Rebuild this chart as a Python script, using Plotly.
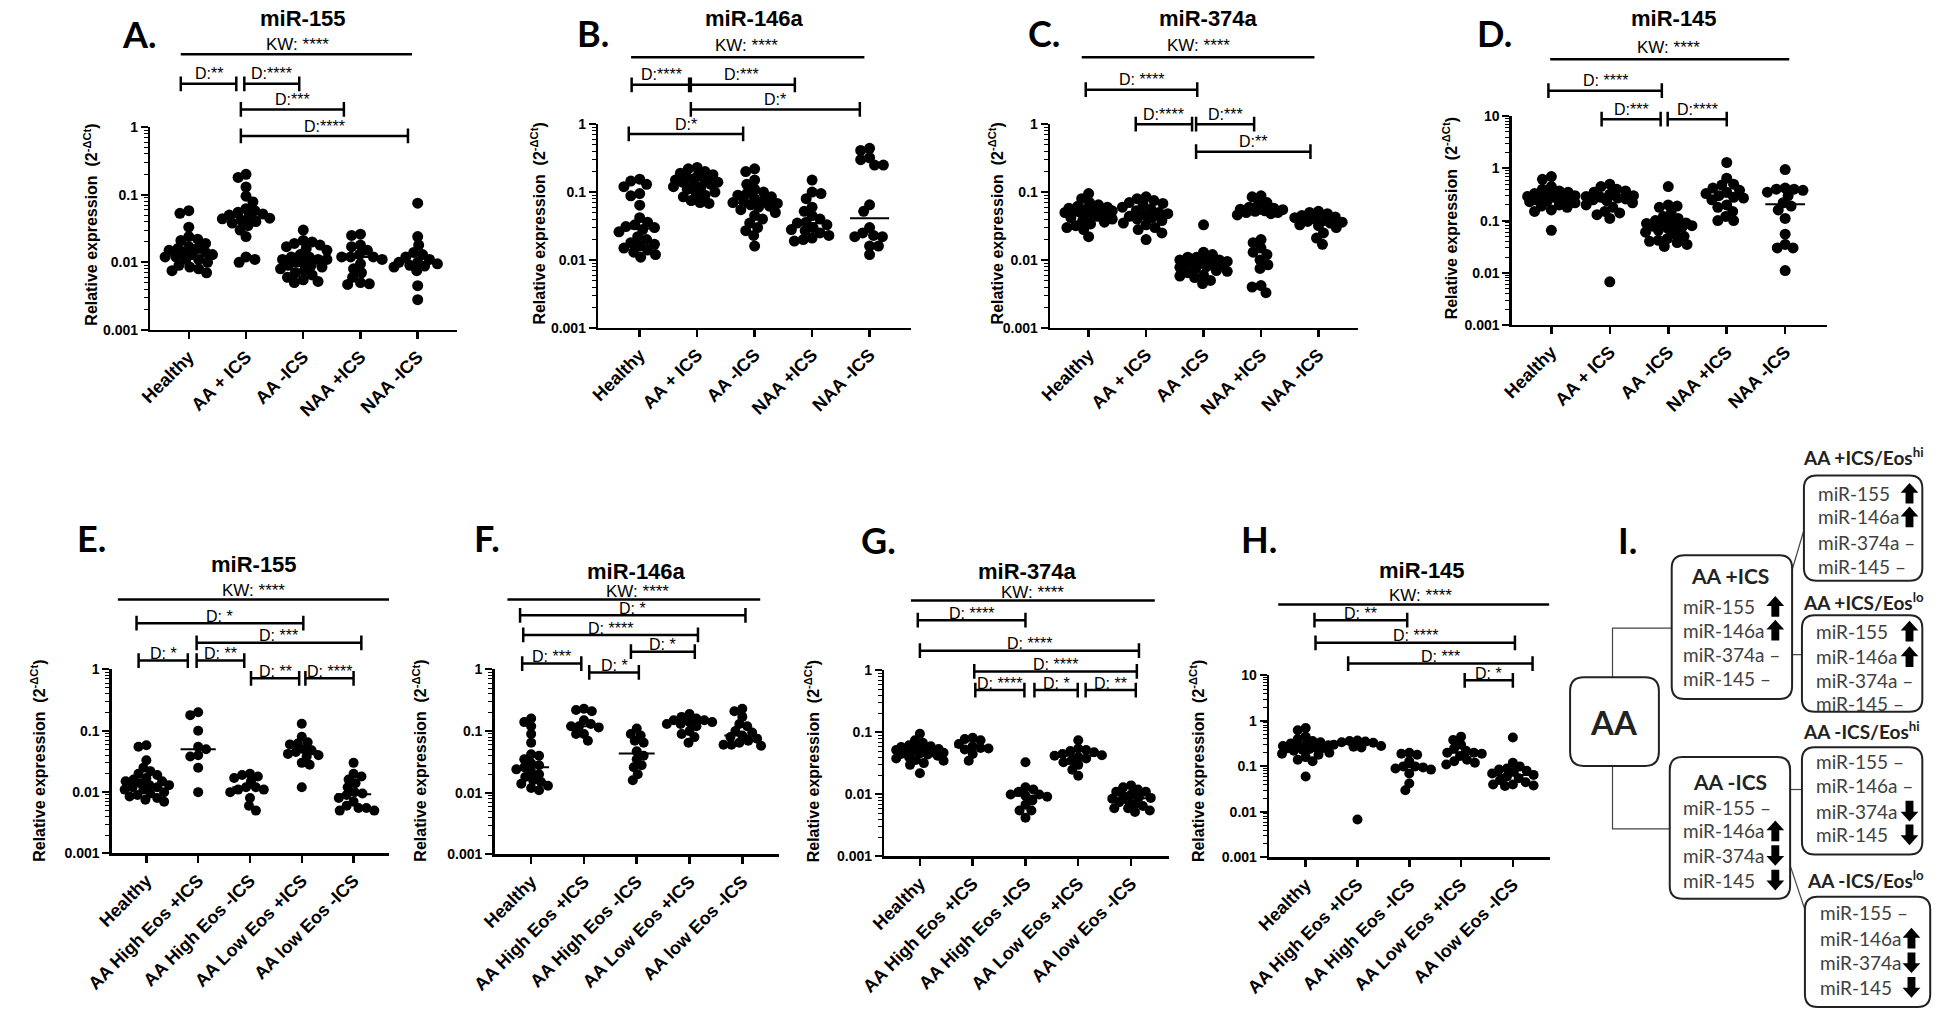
import numpy as np
import plotly.graph_objects as go

W, H = 1946, 1018
FONT = "Liberation Sans"
LFONT = "Lato"

CATS_TOP = ["Healthy", "AA + ICS", "AA -ICS", "NAA +ICS", "NAA -ICS"]
CATS_BOT = ["Healthy", "AA High Eos +ICS", "AA High Eos -ICS", "AA Low Eos +ICS", "AA low Eos -ICS"]

# ---------------- data (relative expression, 2^-dCt) ----------------
# A. miR-155
A_healthy = [0.058, 0.053, 0.033, 0.024, 0.022, 0.021, 0.019, 0.017, 0.016, 0.016, 0.015, 0.014, 0.014, 0.013, 0.013, 0.012, 0.012, 0.011, 0.011, 0.010, 0.009, 0.0085, 0.008, 0.0075, 0.007]
A_aa_pos = [0.20, 0.18, 0.13, 0.095, 0.078, 0.062, 0.058, 0.055, 0.052, 0.050, 0.048, 0.045, 0.044, 0.042, 0.040, 0.038, 0.035, 0.030, 0.024, 0.012, 0.011, 0.010]
A_aa_neg = [0.030, 0.021, 0.020, 0.019, 0.018, 0.017, 0.016, 0.015, 0.013, 0.012, 0.012, 0.011, 0.011, 0.011, 0.010, 0.010, 0.009, 0.009, 0.0085, 0.008, 0.0075, 0.007, 0.0065, 0.006, 0.0055, 0.0052, 0.005]
A_naa_pos = [0.026, 0.025, 0.018, 0.017, 0.015, 0.013, 0.012, 0.012, 0.012, 0.011, 0.0095, 0.008, 0.007, 0.006, 0.005, 0.0048, 0.0047]
A_naa_neg = [0.075, 0.024, 0.018, 0.014, 0.013, 0.012, 0.011, 0.010, 0.010, 0.0095, 0.009, 0.0088, 0.0085, 0.0075, 0.0045, 0.0028]
# B. miR-146a
B_healthy = [0.155, 0.145, 0.13, 0.12, 0.095, 0.088, 0.064, 0.042, 0.036, 0.033, 0.031, 0.030, 0.028, 0.026, 0.022, 0.020, 0.018, 0.017, 0.016, 0.015, 0.014, 0.013, 0.012, 0.011]
B_aa_pos = [0.23, 0.22, 0.20, 0.19, 0.18, 0.17, 0.16, 0.15, 0.15, 0.14, 0.14, 0.13, 0.13, 0.12, 0.12, 0.11, 0.10, 0.095, 0.09, 0.085, 0.075, 0.07, 0.068]
B_aa_neg = [0.22, 0.20, 0.15, 0.13, 0.11, 0.10, 0.095, 0.09, 0.085, 0.08, 0.075, 0.072, 0.07, 0.068, 0.065, 0.062, 0.06, 0.055, 0.05, 0.045, 0.04, 0.035, 0.03, 0.027, 0.023, 0.016]
B_naa_pos = [0.15, 0.10, 0.095, 0.08, 0.06, 0.052, 0.045, 0.04, 0.036, 0.035, 0.033, 0.03, 0.028, 0.027, 0.025, 0.023, 0.021, 0.02, 0.019]
B_naa_neg = [0.44, 0.41, 0.32, 0.30, 0.25, 0.25, 0.065, 0.052, 0.030, 0.025, 0.023, 0.022, 0.022, 0.016, 0.016, 0.012]
# C. miR-374a
C_healthy = [0.095, 0.08, 0.07, 0.065, 0.062, 0.06, 0.058, 0.056, 0.055, 0.054, 0.053, 0.052, 0.05, 0.05, 0.048, 0.046, 0.044, 0.042, 0.04, 0.038, 0.036, 0.034, 0.032, 0.03, 0.028, 0.022]
C_aa_pos = [0.085, 0.08, 0.075, 0.07, 0.068, 0.065, 0.06, 0.056, 0.053, 0.05, 0.048, 0.046, 0.044, 0.042, 0.04, 0.038, 0.035, 0.033, 0.03, 0.028, 0.025, 0.02]
C_aa_neg = [0.033, 0.013, 0.012, 0.011, 0.011, 0.010, 0.010, 0.010, 0.0095, 0.0092, 0.009, 0.0088, 0.0085, 0.0082, 0.008, 0.0078, 0.0075, 0.007, 0.0068, 0.0065, 0.006, 0.0058, 0.0055, 0.005, 0.0045]
C_naa_pos = [0.088, 0.085, 0.07, 0.065, 0.06, 0.058, 0.056, 0.055, 0.053, 0.052, 0.05, 0.05, 0.048, 0.046, 0.02, 0.018, 0.015, 0.013, 0.012, 0.01, 0.0085, 0.0075, 0.0042, 0.004, 0.0033]
C_naa_neg = [0.052, 0.05, 0.048, 0.045, 0.043, 0.042, 0.04, 0.038, 0.037, 0.036, 0.035, 0.033, 0.032, 0.03, 0.025, 0.021, 0.017]
# D. miR-145
D_healthy = [0.70, 0.62, 0.45, 0.40, 0.37, 0.35, 0.33, 0.32, 0.30, 0.29, 0.28, 0.27, 0.26, 0.25, 0.25, 0.24, 0.23, 0.22, 0.20, 0.19, 0.18, 0.16, 0.15, 0.065]
D_aa_pos = [0.50, 0.45, 0.40, 0.37, 0.35, 0.32, 0.30, 0.29, 0.28, 0.27, 0.26, 0.25, 0.24, 0.22, 0.20, 0.18, 0.15, 0.14, 0.13, 0.11, 0.0067]
D_aa_neg = [0.45, 0.20, 0.19, 0.18, 0.14, 0.12, 0.11, 0.10, 0.095, 0.09, 0.088, 0.085, 0.082, 0.08, 0.078, 0.075, 0.07, 0.065, 0.06, 0.055, 0.05, 0.045, 0.042, 0.04, 0.038, 0.035, 0.032]
D_naa_pos = [1.3, 0.65, 0.50, 0.48, 0.42, 0.38, 0.35, 0.33, 0.30, 0.28, 0.27, 0.25, 0.20, 0.18, 0.15, 0.12, 0.10, 0.10]
D_naa_neg = [0.95, 0.42, 0.40, 0.40, 0.38, 0.35, 0.30, 0.22, 0.19, 0.16, 0.11, 0.055, 0.035, 0.03, 0.03, 0.011]
# E. miR-155 by eosinophils
E_healthy = [0.058, 0.055, 0.033, 0.025, 0.022, 0.020, 0.019, 0.017, 0.016, 0.015, 0.015, 0.014, 0.013, 0.013, 0.012, 0.012, 0.011, 0.011, 0.010, 0.0095, 0.009, 0.0085, 0.008, 0.0075, 0.007]
E_hi_pos = [0.20, 0.18, 0.10, 0.055, 0.05, 0.04, 0.038, 0.025, 0.01]
E_hi_neg = [0.020, 0.019, 0.018, 0.017, 0.015, 0.012, 0.012, 0.011, 0.011, 0.010, 0.008, 0.006, 0.005]
E_lo_pos = [0.13, 0.08, 0.065, 0.062, 0.06, 0.05, 0.048, 0.045, 0.042, 0.04, 0.038, 0.03, 0.028, 0.012]
E_lo_neg = [0.030, 0.020, 0.018, 0.016, 0.014, 0.012, 0.010, 0.0095, 0.009, 0.008, 0.007, 0.006, 0.0055, 0.0055, 0.005, 0.005]
# F. miR-146a by eosinophils
F_healthy = [0.16, 0.14, 0.12, 0.09, 0.065, 0.042, 0.04, 0.035, 0.03, 0.028, 0.026, 0.024, 0.022, 0.02, 0.018, 0.016, 0.015, 0.014, 0.013, 0.012, 0.011]
F_hi_pos = [0.23, 0.22, 0.21, 0.15, 0.13, 0.12, 0.12, 0.115, 0.09, 0.09, 0.07]
F_hi_neg = [0.11, 0.09, 0.085, 0.07, 0.065, 0.047, 0.04, 0.035, 0.028, 0.026, 0.02, 0.016]
F_lo_pos = [0.19, 0.17, 0.16, 0.15, 0.15, 0.14, 0.14, 0.13, 0.13, 0.12, 0.10, 0.09, 0.08, 0.065]
F_lo_neg = [0.23, 0.21, 0.17, 0.13, 0.12, 0.10, 0.095, 0.085, 0.08, 0.075, 0.07, 0.065, 0.06, 0.06, 0.058]
# G. miR-374a by eosinophils
G_healthy = [0.095, 0.075, 0.068, 0.062, 0.06, 0.058, 0.055, 0.054, 0.053, 0.052, 0.05, 0.05, 0.048, 0.047, 0.046, 0.045, 0.044, 0.042, 0.04, 0.038, 0.036, 0.035, 0.032, 0.03, 0.022]
G_hi_pos = [0.082, 0.078, 0.075, 0.065, 0.06, 0.056, 0.055, 0.053, 0.045, 0.035]
G_hi_neg = [0.033, 0.013, 0.012, 0.011, 0.010, 0.010, 0.0095, 0.0092, 0.008, 0.0068, 0.0055, 0.0055, 0.0042]
G_lo_pos = [0.075, 0.055, 0.052, 0.05, 0.048, 0.045, 0.043, 0.042, 0.04, 0.038, 0.035, 0.033, 0.03, 0.025, 0.02]
G_lo_neg = [0.014, 0.013, 0.012, 0.011, 0.011, 0.010, 0.0095, 0.009, 0.0088, 0.0085, 0.008, 0.0075, 0.007, 0.0065, 0.006, 0.006, 0.0055, 0.0052]
# H. miR-145 by eosinophils
H_healthy = [0.70, 0.62, 0.45, 0.40, 0.36, 0.34, 0.32, 0.30, 0.29, 0.28, 0.27, 0.26, 0.25, 0.25, 0.24, 0.23, 0.22, 0.20, 0.19, 0.18, 0.16, 0.14, 0.13, 0.06]
H_hi_pos = [0.37, 0.36, 0.35, 0.34, 0.33, 0.30, 0.28, 0.27, 0.26, 0.0068]
H_hi_neg = [0.20, 0.19, 0.18, 0.13, 0.10, 0.10, 0.095, 0.09, 0.085, 0.07, 0.042, 0.03]
H_lo_pos = [0.45, 0.38, 0.30, 0.25, 0.22, 0.20, 0.20, 0.19, 0.17, 0.14, 0.13, 0.12, 0.11]
H_lo_neg = [0.43, 0.12, 0.10, 0.09, 0.085, 0.08, 0.075, 0.07, 0.065, 0.06, 0.055, 0.05, 0.045, 0.04, 0.04, 0.038, 0.037]

# significance brackets: (from category, to category, label)
A_brackets = [(-0.14, 0.83, "D:**"), (0.97, 1.93, "D:****"), (0.91, 2.71, "D:***"), (0.91, 3.83, "D:****")]
B_brackets = [(-0.14, 0.89, "D:****"), (0.86, 2.70, "D:***"), (0.89, 3.83, "D:*"), (-0.19, 1.80, "D:*")]
C_brackets = [(-0.05, 1.89, "D: ****"), (0.82, 1.80, "D:****"), (1.87, 2.88, "D:***"), (1.87, 3.86, "D:**")]
D_brackets = [(-0.05, 1.89, "D: ****"), (0.86, 1.87, "D:***"), (1.99, 3.0, "D:****")]
E_brackets = [(-0.19, 3.03, "D: *"), (0.97, 4.15, "D: ***"), (-0.15, 0.80, "D: *"), (0.97, 1.89, "D: **"), (2.02, 2.95, "D: **"), (3.07, 4.0, "D: ****")]
F_brackets = [(-0.21, 4.06, "D: *"), (-0.15, 3.16, "D: ****"), (1.89, 3.10, "D: *"), (-0.17, 0.95, "D: ***"), (1.10, 2.04, "D: *")]
G_brackets = [(-0.04, 2.0, "D: ****"), (0.0, 4.15, "D: ****"), (1.03, 4.11, "D: ****"), (1.05, 1.98, "D: ****"), (2.17, 2.99, "D: *"), (3.14, 4.09, "D: **")]
H_brackets = [(0.17, 1.96, "D: **"), (0.19, 4.04, "D: ****"), (0.82, 4.38, "D: ***"), (3.07, 4.0, "D: *")]

# ---------------- layout of panels (pixels) ----------------
PANELS = [
    dict(letter="A.", title="miR-155", cats=CATS_TOP, groups=[A_healthy, A_aa_pos, A_aa_neg, A_naa_pos, A_naa_neg],
         px=(126, 437), py=(121, 327), yr=(-3, 0), t0=165, sp=58.0, letter_xy=(115, 26), title_xy=(281, 11),
         ylab_xy=(65, 220), kw=(-0.14, 3.9, 47), kw_xy=(275, 37), br=A_brackets, br_y=[77, 77, 103, 130], dot=11, off=10),
    dict(letter="B.", title="miR-146a", cats=CATS_TOP, groups=[B_healthy, B_aa_pos, B_aa_neg, B_naa_pos, B_naa_neg],
         px=(580, 897), py=(118, 325), yr=(-3, 0), t0=622, sp=58.25, letter_xy=(575, 25), title_xy=(738, 11),
         ylab_xy=(519, 219), kw=(-0.15, 3.91, 50), kw_xy=(730, 38), br=B_brackets, br_y=[78, 78, 103, 128], dot=11, off=10),
    dict(letter="C.", title="miR-374a", cats=CATS_TOP, groups=[C_healthy, C_aa_pos, C_aa_neg, C_naa_pos, C_naa_neg],
         px=(1038, 1350), py=(118, 325), yr=(-3, 0), t0=1077, sp=58.25, letter_xy=(1032, 25), title_xy=(1199, 11),
         ylab_xy=(983, 219), kw=(-0.12, 3.93, 50), kw_xy=(1188, 38), br=C_brackets, br_y=[83, 118, 118, 146], dot=11, off=10),
    dict(letter="D.", title="miR-145", cats=CATS_TOP, groups=[D_healthy, D_aa_pos, D_aa_neg, D_naa_pos, D_naa_neg],
         px=(1506, 1825), py=(110, 322), yr=(-3, 1), t0=1546, sp=59.25, letter_xy=(1488, 25), title_xy=(1670, 11),
         ylab_xy=(1443, 214), kw=(-0.02, 4.07, 52), kw_xy=(1665, 40), br=D_brackets, br_y=[84, 113, 113], dot=11, off=10),
    dict(letter="E.", title="miR-155", cats=CATS_BOT, groups=[E_healthy, E_hi_pos, E_hi_neg, E_lo_pos, E_lo_neg],
         px=(87, 368), py=(672, 859), yr=(-3, 0), t0=122, sp=52.5, letter_xy=(66, 538), title_xy=(231, 565),
         ylab_xy=(12, 765), kw=(-0.55, 4.69, 601), kw_xy=(231, 592), br=E_brackets, br_y=[625, 645, 663, 663, 681, 681], dot=10, off=7),
    dict(letter="F.", title="miR-146a", cats=CATS_BOT, groups=[F_healthy, F_hi_pos, F_hi_neg, F_lo_pos, F_lo_neg],
         px=(475, 763), py=(672, 860), yr=(-3, 0), t0=512, sp=53.5, letter_xy=(467, 538), title_xy=(619, 572),
         ylab_xy=(399, 765), kw=(-0.45, 4.34, 601), kw_xy=(620, 593), br=F_brackets, br_y=[617, 637, 654, 666, 675], dot=10, off=7),
    dict(letter="G.", title="miR-374a", cats=CATS_BOT, groups=[G_healthy, G_hi_pos, G_hi_neg, G_lo_pos, G_lo_neg],
         px=(870, 1158), py=(673, 862), yr=(-3, 0), t0=906, sp=53.5, letter_xy=(864, 540), title_xy=(1015, 573),
         ylab_xy=(797, 765), kw=(-0.17, 4.45, 602), kw_xy=(1020, 594), br=G_brackets, br_y=[622, 653, 674, 693, 693, 693], dot=10, off=7),
    dict(letter="H.", title="miR-145", cats=CATS_BOT, groups=[H_healthy, H_hi_pos, H_hi_neg, H_lo_pos, H_lo_neg],
         px=(1260, 1545), py=(678, 863), yr=(-3, 1), t0=1297, sp=52.5, letter_xy=(1250, 539), title_xy=(1415, 571),
         ylab_xy=(1187, 765), kw=(-0.53, 4.70, 606), kw_xy=(1413, 597), br=H_brackets, br_y=[622, 645, 666, 683], dot=10, off=7),
]


def xp(x):
    return x / W


def yp(y):
    return 1 - y / H


def swarm(vals, ppd, sp, dot):
    """Beeswarm x-offsets (category units) so that dots barely overlap."""
    ys = np.log10(vals) * ppd
    order = np.argsort(-ys)
    dmin = dot * 0.78
    maxw = 24
    placed = []
    offs = np.zeros(len(vals))
    for k, i in enumerate(order):
        sgn = 1 if k % 2 == 0 else -1
        cands = [0.0]
        for s in np.arange(1, maxw + 1, 1.0):
            cands += [sgn * s, -sgn * s]
        best, bestd, chosen = 0.0, -1, None
        for c in cands:
            md = min((np.hypot(c - px_, ys[i] - py_) for px_, py_ in placed), default=1e9)
            if md >= dmin:
                chosen = c
                break
            if md > bestd:
                bestd, best = md, c
        if chosen is None:
            chosen = best
        placed.append((chosen, ys[i]))
        offs[i] = chosen / sp
    return offs


fig = go.Figure()
shapes = []
annotations = []
layout_axes = {}

for i, p in enumerate(PANELS):
    n = i + 1
    xa = "x" if n == 1 else f"x{n}"
    ya = "y" if n == 1 else f"y{n}"
    xl, xr = p["px"]
    yt, yb = p["py"]
    y0, y1 = p["yr"]
    t0, sp = p["t0"], p["sp"]
    ppd = (yb - yt) / (y1 - y0)

    for gi, vals in enumerate(p["groups"]):
        v = np.asarray(vals, float)
        med = float(np.median(v))
        fig.add_trace(go.Scatter(x=[gi - 0.34, gi + 0.34], y=[med, med], mode="lines",
                                 line=dict(color="black", width=2), xaxis=xa, yaxis=ya, hoverinfo="skip"))
        offs = swarm(v, ppd, sp, p["dot"])
        fig.add_trace(go.Scatter(x=gi + offs, y=v, mode="markers",
                                 marker=dict(color="black", size=p["dot"], line=dict(width=0)),
                                 xaxis=xa, yaxis=ya))

    major = [10.0 ** e for e in range(y0, y1 + 1)]
    labels = ["<b>" + (f"{m:g}" if m >= 1 else f"{m:.{-int(round(np.log10(m)))}f}") + "</b>" for m in major]
    minor = [k * 10.0 ** e for e in range(y0, y1) for k in range(2, 10)]

    layout_axes["xaxis" if n == 1 else f"xaxis{n}"] = dict(
        domain=[xp(xl), xp(xr)], anchor=ya, range=[(xl - t0) / sp, (xr - t0) / sp],
        tickmode="array", tickvals=list(range(5)), ticktext=[f"<b>{c}</b>" for c in p["cats"]],
        tickangle=-45, tickfont=dict(family=FONT, size=18, color="black"),
        showline=True, linewidth=2.5, linecolor="black", ticks="outside", ticklen=7, tickwidth=2.5,
        tickcolor="black", showgrid=False, zeroline=False, fixedrange=True)
    layout_axes["yaxis" if n == 1 else f"yaxis{n}"] = dict(
        domain=[yp(yb), yp(yt)], anchor=xa, type="log", range=[y0, y1],
        tickmode="array", tickvals=major, ticktext=labels,
        tickfont=dict(family=FONT, size=14, color="black"),
        showline=True, linewidth=2.5, linecolor="black", ticks="outside", ticklen=7, tickwidth=2,
        tickcolor="black", showgrid=False, zeroline=False, fixedrange=True,
        minor=dict(tickmode="array", tickvals=minor, ticks="outside", ticklen=4, tickwidth=1,
                   tickcolor="black", showgrid=False))

    # panel letter, title, y label
    annotations.append(dict(text=f"<b>{p['letter']}</b>", x=xp(p["letter_xy"][0]), y=yp(p["letter_xy"][1]),
                            xref="paper", yref="paper", showarrow=False, xanchor="center", yanchor="middle",
                            font=dict(family=LFONT, size=36, color="black")))
    annotations.append(dict(text=f"<b>{p['title']}</b>", x=xp(p["title_xy"][0]), y=yp(p["title_xy"][1]),
                            xref="paper", yref="paper", showarrow=False, xanchor="center", yanchor="middle",
                            font=dict(family=FONT, size=22, color="black")))
    annotations.append(dict(text="<b>Relative expression&nbsp; (2<sup>-ΔCt</sup>)</b>", textangle=-90,
                            x=xp(p["ylab_xy"][0]), y=yp(p["ylab_xy"][1]), xref="paper", yref="paper",
                            showarrow=False, xanchor="center", yanchor="middle",
                            font=dict(family=FONT, size=16, color="black")))

    # Kruskal-Wallis line
    k0, k1, ky = p["kw"]
    shapes.append(dict(type="line", xref=xa, yref="paper", x0=k0, x1=k1, y0=yp(ky), y1=yp(ky),
                       line=dict(color="black", width=2.5)))
    annotations.append(dict(text="KW: ****", x=xp(p["kw_xy"][0]), y=yp(p["kw_xy"][1]), xref="paper", yref="paper",
                            showarrow=False, xanchor="center", yanchor="middle",
                            font=dict(family=FONT, size=17, color="black")))

    # Dunn's brackets
    cap = 7.5 / H
    for (b0, b1, lab), by in zip(p["br"], p["br_y"]):
        yy = yp(by)
        path = (f"M {b0},{yy - cap} L {b0},{yy + cap} M {b0},{yy} L {b1},{yy} "
                f"M {b1},{yy - cap} L {b1},{yy + cap}")
        shapes.append(dict(type="path", xref=xa, yref="paper", path=path,
                           line=dict(color="black", width=2.5)))
        annotations.append(dict(text=lab, x=(b0 + b1) / 2, y=yp(by - p["off"]), xref=xa, yref="paper",
                                showarrow=False, xanchor="center", yanchor="middle",
                                font=dict(family=FONT, size=16, color="black")))

# ---------------- panel I: summary diagram ----------------
MIRS = ["miR-155", "miR-146a", "miR-374a", "miR-145"]
I_AA_POS = ["up", "up", "none", "none"]
I_AA_NEG = ["none", "up", "down", "down"]
I_POS_HI = ["up", "up", "none", "none"]
I_POS_LO = ["up", "up", "none", "none"]
I_NEG_HI = ["none", "none", "down", "down"]
I_NEG_LO = ["none", "up", "down", "down"]

I_BOXES = [
    dict(title="AA +ICS", status=I_AA_POS, rect=(1668, 556, 1790, 702), title_xy=(1727, 577), tx=1677,
         rows=[608, 632, 657, 681], ax=1773, tsize=21),
    dict(title="AA -ICS", status=I_AA_NEG, rect=(1666, 761, 1788, 905), title_xy=(1727, 786), tx=1677,
         rows=[812, 836, 861, 886], ax=1773, tsize=21),
    dict(title="AA +ICS/Eos<sup>hi</sup>", status=I_POS_HI, rect=(1802, 475, 1922, 582), title_xy=(1862, 456),
         tx=1814, rows=[493, 517, 543, 567], ax=1909, tsize=19),
    dict(title="AA +ICS/Eos<sup>lo</sup>", status=I_POS_LO, rect=(1800, 617, 1922, 715), title_xy=(1862, 603),
         tx=1812, rows=[633, 659, 683, 707], ax=1909, tsize=19),
    dict(title="AA -ICS/Eos<sup>hi</sup>", status=I_NEG_HI, rect=(1800, 751, 1922, 860), title_xy=(1860, 734),
         tx=1812, rows=[766, 790, 816, 840], ax=1909, tsize=19),
    dict(title="AA -ICS/Eos<sup>lo</sup>", status=I_NEG_LO, rect=(1803, 903, 1930, 1015), title_xy=(1864, 885),
         tx=1816, rows=[919, 945, 970, 995], ax=1911, tsize=19),
]


def rrect(x0, y0, x1, y1, r):
    pts = [("M", x0 + r, y0), ("L", x1 - r, y0), ("Q", x1, y0, x1, y0 + r), ("L", x1, y1 - r),
           ("Q", x1, y1, x1 - r, y1), ("L", x0 + r, y1), ("Q", x0, y1, x0, y1 - r), ("L", x0, y0 + r),
           ("Q", x0, y0, x0 + r, y0)]
    s = []
    for p_ in pts:
        c = p_[0]
        coords = p_[1:]
        xy = []
        for j in range(0, len(coords), 2):
            xy.append(f"{xp(coords[j]):.5f},{yp(coords[j + 1]):.5f}")
        s.append(c + " " + " ".join(xy))
    return " ".join(s) + " Z"


def arrow(cx, cy, up=True):
    h, w, sw, hh = 21, 18, 8, 10
    sgn = -1 if up else 1
    tip = cy + sgn * h / 2
    base = cy - sgn * h / 2
    neck = tip - sgn * hh
    pts = [(cx, tip), (cx + w / 2, neck), (cx + sw / 2, neck), (cx + sw / 2, base),
           (cx - sw / 2, base), (cx - sw / 2, neck), (cx - w / 2, neck)]
    return "M " + " L ".join(f"{xp(a):.5f},{yp(b):.5f}" for a, b in pts) + " Z"


def polyline(pts):
    return "M " + " L ".join(f"{xp(a):.5f},{yp(b):.5f}" for a, b in pts)


# connectors
for pts in [[(1608, 680), (1608, 630), (1668, 630)], [(1608, 770), (1608, 834), (1666, 834)],
            [(1790, 571), (1803, 527)], [(1790, 657), (1800, 657)], [(1788, 794), (1800, 794)],
            [(1787, 868), (1806, 925)]]:
    shapes.append(dict(type="path", xref="paper", yref="paper", path=polyline(pts),
                       line=dict(color="#444444", width=1.2)))

# AA root box
shapes.append(dict(type="path", xref="paper", yref="paper", path=rrect(1565, 680, 1655, 770, 14),
                   line=dict(color="#222222", width=2), fillcolor="white"))
annotations.append(dict(text="<b>AA</b>", x=xp(1610), y=yp(725), xref="paper", yref="paper", showarrow=False,
                        xanchor="center", yanchor="middle", font=dict(family=LFONT, size=33, color="#222222")))
annotations.append(dict(text="<b>I.</b>", x=xp(1623), y=yp(540), xref="paper", yref="paper", showarrow=False,
                        xanchor="center", yanchor="middle", font=dict(family=LFONT, size=36, color="black")))

for b in I_BOXES:
    x0, y0, x1, y1 = b["rect"]
    shapes.append(dict(type="path", xref="paper", yref="paper", path=rrect(x0, y0, x1, y1, 13),
                       line=dict(color="#222222", width=2), fillcolor="white"))
    annotations.append(dict(text=f"<b>{b['title']}</b>", x=xp(b["title_xy"][0]), y=yp(b["title_xy"][1]),
                            xref="paper", yref="paper", showarrow=False, xanchor="center", yanchor="middle",
                            font=dict(family=LFONT, size=b["tsize"], color="#222222")))
    for name, st, ry in zip(MIRS, b["status"], b["rows"]):
        txt = name + (" –" if st == "none" else "")
        annotations.append(dict(text=txt, x=xp(b["tx"]), y=yp(ry), xref="paper", yref="paper", showarrow=False,
                                xanchor="left", yanchor="middle", font=dict(family=LFONT, size=19, color="#404040")))
        if st in ("up", "down"):
            shapes.append(dict(type="path", xref="paper", yref="paper", path=arrow(b["ax"], ry, st == "up"),
                               line=dict(width=0), fillcolor="black"))

fig.update_layout(width=W, height=H, margin=dict(l=0, r=0, t=0, b=0), showlegend=False,
                  paper_bgcolor="white", plot_bgcolor="white", shapes=shapes, annotations=annotations,
                  **layout_axes)

fig.write_html("out.html", config={"displayModeBar": False, "staticPlot": True},
               post_script="document.body.style.margin='0';document.body.style.padding='0';"
                           "document.documentElement.style.overflow='hidden';")
